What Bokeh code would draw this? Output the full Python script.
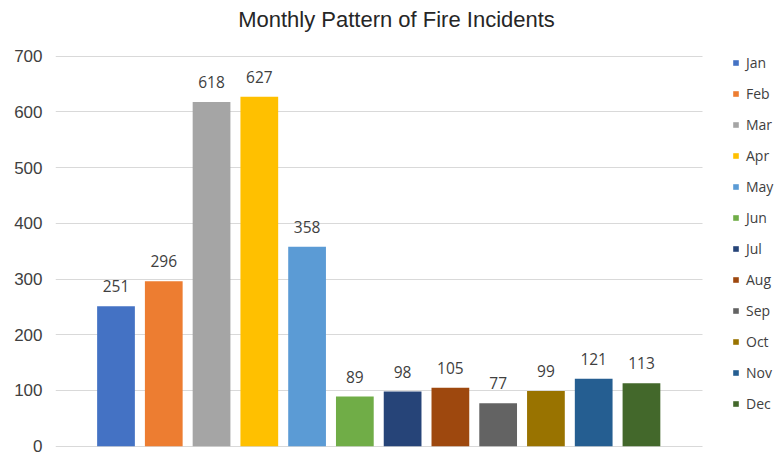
from bokeh.plotting import figure
from bokeh.models import ColumnDataSource, Legend, LegendItem, Label, FixedTicker, Range1d
from bokeh.core.properties import value
from bokeh.embed import file_html
from bokeh.resources import INLINE

# ---- data ----
months = ["Jan", "Feb", "Mar", "Apr", "May", "Jun", "Jul", "Aug", "Sep", "Oct", "Nov", "Dec"]
incidents = [251, 296, 618, 627, 358, 89, 98, 105, 77, 99, 121, 113]
colors = ["#4472C4", "#ED7D31", "#A5A5A5", "#FFC000", "#5B9BD5", "#70AD47",
          "#264478", "#9E480E", "#636363", "#997300", "#255E91", "#43682B"]
y_ticks = [0, 100, 200, 300, 400, 500, 600, 700]
title_text = "Monthly Pattern of Fire Incidents"

positions = list(range(len(months)))
src = ColumnDataSource(dict(x=positions, y=incidents, month=months, color=colors,
                            label=[str(v) for v in incidents]))

X_START, X_END = -1.2665, 13.806
GRID_END = 12.28

p = figure(width=775, height=457, output_backend="svg", toolbar_location=None,
           x_axis_location=None,
           x_range=Range1d(X_START, X_END), y_range=Range1d(-20.28, 799.97),
           min_border_left=55, min_border_right=0, min_border_top=0, min_border_bottom=0)
p.outline_line_color = None
p.background_fill_color = "white"
p.border_fill_color = "white"

p.xgrid.visible = False
p.ygrid.grid_line_color = "#d9d9d9"
p.ygrid.grid_line_width = 1
try:
    p.ygrid[0].cross_bounds = (X_START, GRID_END)
except Exception:
    pass

ax = p.yaxis[0]
ax.ticker = FixedTicker(ticks=y_ticks)
ax.axis_line_color = None
ax.major_tick_line_color = None
ax.minor_tick_line_color = None
ax.major_tick_out = 0
ax.major_tick_in = 0
ax.major_label_standoff = 13
ax.major_label_text_font = "Liberation Sans"
ax.major_label_text_font_size = "17px"
ax.major_label_text_color = "#404040"

bars = p.vbar(x="x", top="y", bottom=0, width=0.79, fill_color="color",
              line_color=None, source=src)

p.text(x="x", y="y", text="label", source=src, text_align="center",
       text_baseline="alphabetic", y_offset=-20,
       text_font=value("Open Sans"), text_font_size="15.5px", text_color="#404040")

legend = Legend(items=[LegendItem(label=m, renderers=[bars], index=i) for i, m in enumerate(months)],
                location=(677, 44), padding=0, margin=0,
                border_line_color=None, background_fill_alpha=0,
                glyph_width=7, glyph_height=7, label_height=20, spacing=11,
                label_standoff=7, label_text_font="Open Sans",
                label_text_font_size="14px", label_text_color="#404040")
p.add_layout(legend, "center")

p.add_layout(Label(x=341, y=438, x_units="screen", y_units="screen",
                   text=title_text, text_align="center", text_baseline="alphabetic",
                   text_font="Liberation Sans", text_font_size="22px",
                   text_color="#262626"))

open("out.html", "w").write(file_html(p, INLINE))
